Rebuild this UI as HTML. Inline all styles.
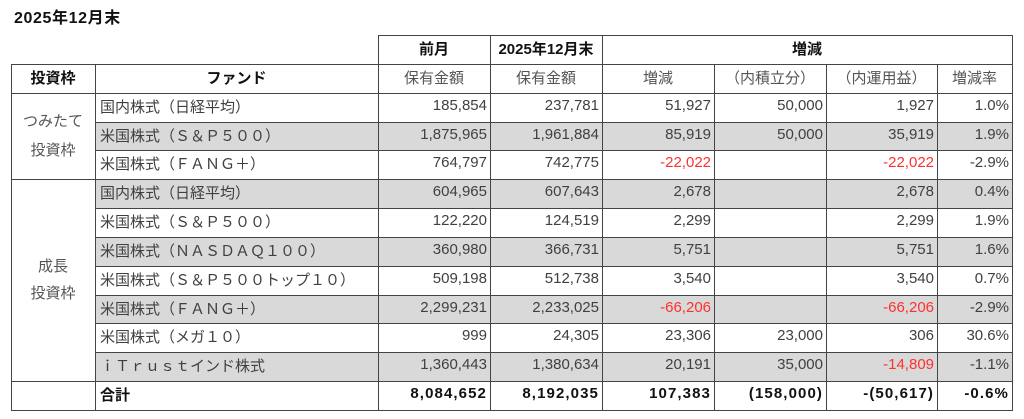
<!DOCTYPE html>
<html><head><meta charset="utf-8">
<style>
html,body{margin:0;padding:0;background:#fff;}
body{width:1024px;height:419px;position:relative;overflow:hidden;font-family:"Liberation Sans","Noto Sans CJK JP",sans-serif;font-size:15px;color:#404040;}
.h{position:absolute;height:1px;background:#444;}
.v{position:absolute;width:1px;background:#444;}
.g{position:absolute;background:#d9d9d9;left:95px;width:917px;}
.r{position:absolute;left:0;width:1024px;height:29px;}
.c{position:absolute;top:0;height:29px;line-height:29px;white-space:nowrap;}
.n{text-align:right;top:-2px;}
.ct{text-align:center;}
.b{font-weight:bold;color:#111;}
.bn{font-weight:bold;color:#111;letter-spacing:1.1px;}
.red{color:#ff3030;}
.A{left:11px;width:84px;}
.B{left:100px;width:278px;}
.C{left:378px;width:109px;}
.D{left:490px;width:109px;}
.E{left:602px;width:109px;}
.F{left:714px;width:109px;}
.G{left:826px;width:108px;}
.H{left:937px;width:72px;}
.Cc{left:378px;width:112px;}
.Dc{left:490px;width:112px;}
.Ec{left:602px;width:112px;}
.Fc{left:714px;width:112px;}
.Gc{left:826px;width:111px;}
.Hc{left:937px;width:75px;}
.hd{color:#555;}
</style></head><body>

<div style="position:absolute;left:14px;top:8px;font-size:16px;font-weight:bold;color:#111;letter-spacing:0.6px;line-height:22px;">2025年12月末</div>

<!-- gray fills -->
<div class="g" style="top:122px;height:28px;"></div>
<div class="g" style="top:179px;height:29px;"></div>
<div class="g" style="top:237px;height:29px;"></div>
<div class="g" style="top:295px;height:28px;"></div>
<div class="g" style="top:352px;height:29px;"></div>

<!-- horizontal lines -->
<div class="h" style="top:35px;left:378px;width:635px;"></div>
<div class="h" style="top:64px;left:11px;width:1002px;"></div>
<div class="h" style="top:93px;left:11px;width:1002px;"></div>
<div class="h" style="top:122px;left:95px;width:918px;"></div>
<div class="h" style="top:150px;left:95px;width:918px;"></div>
<div class="h" style="top:179px;left:11px;width:1002px;"></div>
<div class="h" style="top:208px;left:95px;width:918px;"></div>
<div class="h" style="top:237px;left:95px;width:918px;"></div>
<div class="h" style="top:266px;left:95px;width:918px;"></div>
<div class="h" style="top:295px;left:95px;width:918px;"></div>
<div class="h" style="top:323px;left:95px;width:918px;"></div>
<div class="h" style="top:352px;left:95px;width:918px;"></div>
<div class="h" style="top:381px;left:11px;width:1002px;"></div>
<div class="h" style="top:410px;left:11px;width:1002px;"></div>

<!-- vertical lines -->
<div class="v" style="left:11px;top:64px;height:347px;"></div>
<div class="v" style="left:95px;top:64px;height:347px;"></div>
<div class="v" style="left:378px;top:35px;height:376px;"></div>
<div class="v" style="left:490px;top:35px;height:376px;"></div>
<div class="v" style="left:602px;top:35px;height:376px;"></div>
<div class="v" style="left:714px;top:64px;height:347px;"></div>
<div class="v" style="left:826px;top:64px;height:347px;"></div>
<div class="v" style="left:937px;top:64px;height:347px;"></div>
<div class="v" style="left:1012px;top:35px;height:376px;"></div>

<!-- header row 1 -->
<div class="r" style="top:35px;">
  <div class="c ct b Cc">前月</div>
  <div class="c ct b Dc">2025年12月末</div>
  <div class="c ct b" style="left:602px;width:410px;">増減</div>
</div>
<!-- header row 2 -->
<div class="r" style="top:64px;">
  <div class="c ct b A">投資枠</div>
  <div class="c ct b" style="left:95px;width:283px;">ファンド</div>
  <div class="c ct hd Cc">保有金額</div>
  <div class="c ct hd Dc">保有金額</div>
  <div class="c ct hd Ec">増減</div>
  <div class="c ct hd Fc">（内積立分）</div>
  <div class="c ct hd Gc">（内運用益）</div>
  <div class="c ct hd Hc">増減率</div>
</div>

<!-- 投資枠 labels -->
<div style="position:absolute;left:11px;width:84px;top:107px;line-height:29px;text-align:center;color:#555;">つみたて<br>投資枠</div>
<div style="position:absolute;left:11px;width:84px;top:253px;line-height:27px;text-align:center;color:#555;">成長<br>投資枠</div>

<!-- data rows -->
<div class="r" style="top:93px;">
  <div class="c B">国内株式（日経平均）</div>
  <div class="c n C">185,854</div><div class="c n D">237,781</div><div class="c n E">51,927</div><div class="c n F">50,000</div><div class="c n G">1,927</div><div class="c n H">1.0%</div>
</div>
<div class="r" style="top:122px;">
  <div class="c B">米国株式（Ｓ＆Ｐ５００）</div>
  <div class="c n C">1,875,965</div><div class="c n D">1,961,884</div><div class="c n E">85,919</div><div class="c n F">50,000</div><div class="c n G">35,919</div><div class="c n H">1.9%</div>
</div>
<div class="r" style="top:150px;">
  <div class="c B">米国株式（ＦＡＮＧ＋）</div>
  <div class="c n C">764,797</div><div class="c n D">742,775</div><div class="c n E red">-22,022</div><div class="c n G red">-22,022</div><div class="c n H">-2.9%</div>
</div>
<div class="r" style="top:179px;">
  <div class="c B">国内株式（日経平均）</div>
  <div class="c n C">604,965</div><div class="c n D">607,643</div><div class="c n E">2,678</div><div class="c n G">2,678</div><div class="c n H">0.4%</div>
</div>
<div class="r" style="top:208px;">
  <div class="c B">米国株式（Ｓ＆Ｐ５００）</div>
  <div class="c n C">122,220</div><div class="c n D">124,519</div><div class="c n E">2,299</div><div class="c n G">2,299</div><div class="c n H">1.9%</div>
</div>
<div class="r" style="top:237px;">
  <div class="c B">米国株式（ＮＡＳＤＡＱ１００）</div>
  <div class="c n C">360,980</div><div class="c n D">366,731</div><div class="c n E">5,751</div><div class="c n G">5,751</div><div class="c n H">1.6%</div>
</div>
<div class="r" style="top:266px;">
  <div class="c B">米国株式（Ｓ＆Ｐ５００トップ１０）</div>
  <div class="c n C">509,198</div><div class="c n D">512,738</div><div class="c n E">3,540</div><div class="c n G">3,540</div><div class="c n H">0.7%</div>
</div>
<div class="r" style="top:295px;">
  <div class="c B">米国株式（ＦＡＮＧ＋）</div>
  <div class="c n C">2,299,231</div><div class="c n D">2,233,025</div><div class="c n E red">-66,206</div><div class="c n G red">-66,206</div><div class="c n H">-2.9%</div>
</div>
<div class="r" style="top:323px;">
  <div class="c B">米国株式（メガ１０）</div>
  <div class="c n C">999</div><div class="c n D">24,305</div><div class="c n E">23,306</div><div class="c n F">23,000</div><div class="c n G">306</div><div class="c n H">30.6%</div>
</div>
<div class="r" style="top:352px;">
  <div class="c B">ｉＴｒｕｓｔインド株式</div>
  <div class="c n C">1,360,443</div><div class="c n D">1,380,634</div><div class="c n E">20,191</div><div class="c n F">35,000</div><div class="c n G red">-14,809</div><div class="c n H">-1.1%</div>
</div>
<div class="r" style="top:381px;">
  <div class="c B b">合計</div>
  <div class="c n bn C">8,084,652</div><div class="c n bn D">8,192,035</div><div class="c n bn E">107,383</div><div class="c n bn F">(158,000)</div><div class="c n bn G">-(50,617)</div><div class="c n bn H">-0.6%</div>
</div>

</body></html>
